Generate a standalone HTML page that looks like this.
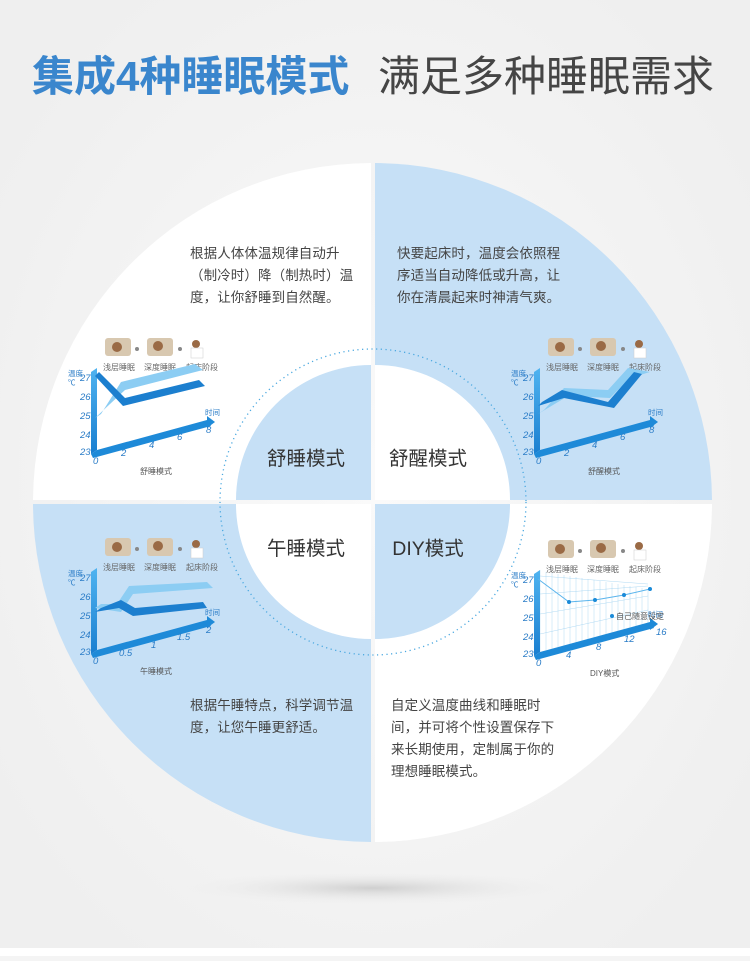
<!DOCTYPE html>
<html><head><meta charset="utf-8"><style>
html,body{margin:0;padding:0}
body{width:750px;height:956px;background:#f4f4f4;overflow:hidden;font-family:"Liberation Sans","Noto Sans CJK SC",sans-serif}
svg text{font-family:"Liberation Sans","Noto Sans CJK SC",sans-serif}
</style></head><body>
<svg width="750" height="956" viewBox="0 0 750 956" xmlns="http://www.w3.org/2000/svg">
<defs>
<radialGradient id="bg" cx="50%" cy="50%" r="60%"><stop offset="0" stop-color="#fafafa"/><stop offset="1" stop-color="#efefef"/></radialGradient>
<radialGradient id="sh" cx="50%" cy="50%" r="50%"><stop offset="0" stop-color="#cfcfcf"/><stop offset="1" stop-color="#f4f4f4" stop-opacity="0"/></radialGradient>
<linearGradient id="ax" x1="0" y1="0" x2="0" y2="1"><stop offset="0" stop-color="#4fb3f0"/><stop offset="1" stop-color="#1a7fd0"/></linearGradient>
<g id="axes">
  <polygon points="-4,-80 2,-84 2,-2 -4,2" fill="url(#ax)"/>
  <polygon points="-4,2 2,-2 112,-32 116,-26 -2,6" fill="#1e8ad8"/>
  <polygon points="112,-36 120,-30 112,-24" fill="#1e8ad8"/>
  <g font-size="9.5" fill="#2a7cc7" font-style="italic">
  <text x="-15" y="3">23</text><text x="-15" y="-14">24</text><text x="-15" y="-33">25</text><text x="-15" y="-52">26</text><text x="-15" y="-71">27</text>
  </g>
  <g font-size="7.5" fill="#2a7cc7"><text x="-27" y="-76">温度</text><text x="-27" y="-67">℃</text><text x="110" y="-37">时间</text></g>
  <g font-size="8" fill="#666"><text x="8" y="-82">浅层睡眠</text><text x="49" y="-82">深度睡眠</text><text x="91" y="-82">起床阶段</text></g>
  <g fill="#d8c8b0"><rect x="10" y="-114" width="26" height="18" rx="3"/><rect x="52" y="-114" width="26" height="18" rx="3"/></g>
  <g fill="#9a6a45"><circle cx="22" cy="-105" r="5"/><circle cx="63" cy="-106" r="5"/><circle cx="101" cy="-108" r="4"/></g>
  <rect x="96" y="-104" width="12" height="10" fill="#fff" stroke="#ccc" stroke-width="0.5"/>
  <circle cx="42" cy="-103" r="2" fill="#888"/><circle cx="85" cy="-103" r="2" fill="#888"/>
</g>
</defs>
<rect width="750" height="956" fill="url(#bg)"/>
<rect y="948" width="750" height="8" fill="#ffffff"/>
<ellipse cx="373" cy="888" rx="210" ry="18" fill="url(#sh)"/>
<text x="32" y="91" font-size="42" font-weight="bold" fill="#3a86cd">集成4种睡眠模式</text>
<text x="378" y="91" font-size="42" fill="#454545">满足多种睡眠需求</text>

<path d="M371,500 L371,163 A339,339 0 0 0 33,500 Z" fill="#ffffff"/>
<path d="M375,500 L375,163 A339,339 0 0 1 712,500 Z" fill="#c6e0f6"/>
<path d="M371,504 L33,504 A339,339 0 0 0 371,842 Z" fill="#c6e0f6"/>
<path d="M375,504 L712,504 A339,339 0 0 1 375,842 Z" fill="#ffffff"/>
<circle cx="373" cy="502" r="153" fill="none" stroke="#4aa8e0" stroke-width="1.3" stroke-dasharray="1.2,3.5"/>
<path d="M371,500 L371,365 A135,135 0 0 0 236,500 Z" fill="#c6e0f6"/>
<path d="M375,500 L375,365 A135,135 0 0 1 510,500 Z" fill="#ffffff"/>
<path d="M371,504 L236,504 A135,135 0 0 0 371,639 Z" fill="#ffffff"/>
<path d="M375,504 L510,504 A135,135 0 0 1 375,639 Z" fill="#c6e0f6"/>
<g font-size="19.5" fill="#333" text-anchor="middle">
<text x="306" y="465">舒睡模式</text><text x="428" y="465">舒醒模式</text>
<text x="306" y="555">午睡模式</text><text x="428" y="555">DIY模式</text>
</g>

<g font-size="13.5" fill="#444" letter-spacing="0.1">
<text x="190" y="258">根据人体体温规律自动升</text>
<text x="190" y="280">（制冷时）降（制热时）温</text>
<text x="190" y="302">度，让你舒睡到自然醒。</text>
<text x="397" y="258">快要起床时，温度会依照程</text>
<text x="397" y="280">序适当自动降低或升高，让</text>
<text x="397" y="302">你在清晨起来时神清气爽。</text>
<text x="190" y="710">根据午睡特点，科学调节温</text>
<text x="190" y="732">度，让您午睡更舒适。</text>
<text x="391" y="710">自定义温度曲线和睡眠时</text>
<text x="391" y="732">间，并可将个性设置保存下</text>
<text x="391" y="754">来长期使用，定制属于你的</text>
<text x="391" y="776">理想睡眠模式。</text>
</g>

<g transform="translate(95,452)">
<use href="#axes"/>
<g font-size="9.5" fill="#2a7cc7" font-style="italic"><text x="-2" y="12">0</text><text x="26" y="4">2</text><text x="54" y="-4">4</text><text x="82" y="-12">6</text><text x="111" y="-19">8</text></g>
<polygon points="0,-34 6,-38 26,-70 100,-88 108,-82 30,-62" fill="#8ccdf3"/>
<polygon points="0,-76 4,-80 30,-54 104,-72 110,-66 28,-46" fill="#1c7fcf"/>
<text x="45" y="22" font-size="8" fill="#555">舒睡模式</text>
</g>
<g transform="translate(538,452)">
<use href="#axes"/>
<g font-size="9.5" fill="#2a7cc7" font-style="italic"><text x="-2" y="12">0</text><text x="26" y="4">2</text><text x="54" y="-4">4</text><text x="82" y="-12">6</text><text x="111" y="-19">8</text></g>
<polygon points="0,-38 6,-42 26,-64 70,-62 90,-84 112,-80 92,-74 72,-54 30,-56" fill="#8ccdf3"/>
<polygon points="0,-46 4,-50 24,-62 70,-50 96,-80 104,-78 76,-44 26,-54" fill="#1c7fcf"/>
<text x="50" y="22" font-size="8" fill="#555">舒醒模式</text>
</g>
<g transform="translate(95,652)">
<use href="#axes"/>
<g font-size="9.5" fill="#2a7cc7" font-style="italic"><text x="-2" y="12">0</text><text x="24" y="4">0.5</text><text x="56" y="-4">1</text><text x="82" y="-12">1.5</text><text x="111" y="-19">2</text></g>
<polygon points="0,-44 6,-48 22,-48 34,-66 112,-70 118,-64 38,-58 26,-40" fill="#8ccdf3"/>
<polygon points="0,-40 6,-44 26,-52 40,-44 108,-50 112,-44 38,-36 24,-44" fill="#1c7fcf"/>
<text x="45" y="22" font-size="8" fill="#555">午睡模式</text>
</g>
<g transform="translate(538,654)">
<g stroke="#9cd0f0" stroke-width="0.4">
<path d="M2,-84 L2,-2 M8,-82 L8,-4 M14,-81 L14,-5 M20,-80 L20,-7 M26,-79 L26,-8 M32,-78 L32,-10 M38,-77 L38,-11 M44,-76 L44,-13 M50,-75 L50,-14 M56,-74 L56,-16 M62,-73 L62,-17 M68,-72 L68,-19 M74,-71 L74,-20 M80,-70 L80,-22 M86,-69 L86,-23 M92,-68 L92,-25 M98,-67 L98,-26 M104,-66 L104,-28 M110,-65 L110,-29"/>
<path d="M2,-20 L110,-44 M2,-40 L110,-58 M2,-60 L110,-68 M2,-78 L110,-70"/>
</g>
<use href="#axes"/>
<g font-size="9.5" fill="#2a7cc7" font-style="italic"><text x="-2" y="12">0</text><text x="28" y="4">4</text><text x="58" y="-4">8</text><text x="86" y="-12">12</text><text x="118" y="-19">16</text></g>
<polyline points="0,-75 31,-52 57,-54 86,-59 112,-65" fill="none" stroke="#5ab4ec" stroke-width="1"/>
<g fill="#1a8ad8"><circle cx="31" cy="-52" r="2"/><circle cx="57" cy="-54" r="2"/><circle cx="86" cy="-59" r="2"/><circle cx="112" cy="-65" r="2"/><circle cx="74" cy="-38" r="2"/></g>
<text x="78" y="-35" font-size="8" fill="#555">自己随意设定</text>
<text x="52" y="22" font-size="8" fill="#555">DIY模式</text>
</g>
</svg>
</body></html>
